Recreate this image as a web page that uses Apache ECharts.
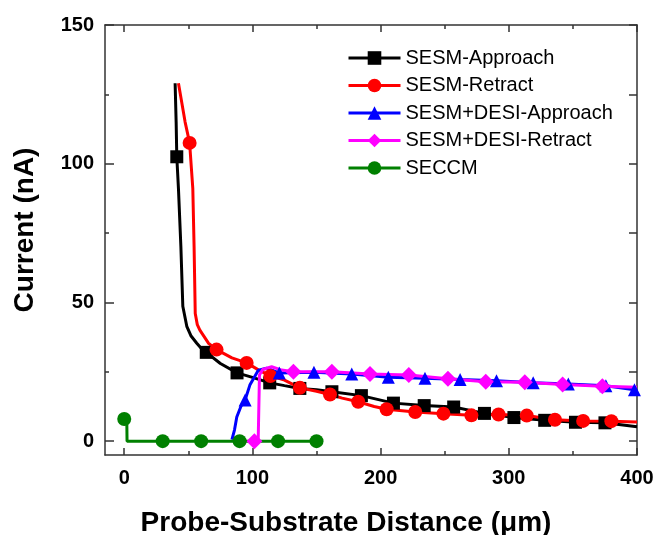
<!DOCTYPE html>
<html>
<head>
<meta charset="utf-8">
<script src="https://cdn.jsdelivr.net/npm/echarts@6/dist/echarts.min.js"></script>
<style>
  html, body { margin: 0; padding: 0; background: #fff; }
  #main { width: 657px; height: 535px; }
</style>
</head>
<body>
<div id="main"></div>
<script>
// series names
let seriesNames = ['SESM-Approach', 'SESM-Retract', 'SESM+DESI-Approach', 'SESM+DESI-Retract', 'SECCM'];

// curve points (no marker) and marker points, [distance um, current nA]
let approachLine = [[39.7, 129], [40.5, 115], [42.3, 91], [44.2, 70], [45.7, 48.6], [48.8, 41.4], [52, 38], [56.6, 35.3], [60, 33.5],
    [75, 28], [100, 23], [125, 20], [150, 18.5], [400, 5.2]];
let approachMarks = [[41, 102.5], [64, 32], [88, 24.6], [113.5, 21], [137, 19], [162, 17.8], [185, 16.4], [210, 13.7], [234, 12.8],
    [257, 12.3], [281, 10], [304, 8.5], [328, 7.5], [352, 6.8], [375, 6.6]];

let retractLine = [[42.3, 129], [47.5, 115], [53.5, 91], [54.5, 70], [55.4, 46], [57, 42], [59, 40], [65.7, 35.3], [84, 30],
    [105, 25.6], [125, 22], [150, 18], [170, 15.5], [195, 12.5], [400, 6.9]];
let retractMarks = [[51, 107.5], [72, 33], [95.5, 28.2], [114, 23.5], [137, 19.2], [160.5, 16.8], [182.5, 14.2], [204.7, 11.5],
    [227, 10.5], [249, 9.9], [270.8, 9.3], [292, 9.6], [314, 9.2], [336, 7.7], [358, 7.3], [380, 7.2]];

let desiApproachLine = [[84, 0.5], [86, 4], [87.8, 8.7], [91, 12.5], [98, 20.2], [104.7, 25.6], [111, 26.3], [400, 18.2]];
let desiApproachMarks = [[94.3, 14.8], [121, 24.6], [148, 24.8], [177.5, 24.2], [206, 23], [234.6, 22.7], [262, 22.2],
    [290.4, 21.8], [319, 21], [346.4, 20.6], [375.7, 20], [398, 18.5]];

let desiRetractLine = [[104.5, 0.5], [105, 12], [105.5, 23.8], [108, 25.8], [115, 26.8], [122.8, 25.6], [400, 19.4]];
let desiRetractMarks = [[101.5, 0], [132, 25], [162, 25], [191.7, 24.2], [222, 23.8], [252.5, 22.5], [282, 21.4],
    [312.5, 21.2], [342, 20.4], [373, 19.8]];

let seccmLine = [[2, 7.5], [2.2, 0]];
let seccmMarks = [[0, 8], [30, 0], [60, 0], [90, 0], [120, 0], [150, 0]];

// axis ticks
let xTicks = [0, 100, 200, 300, 400];
let xMinorTicks = [50, 150, 250, 350];
let yTicks = [0, 50, 100, 150];
let yMinorTicks = [25, 75, 125];
let yAllTicks = [0, 25, 50, 75, 100, 125, 150];

let colors = ['#000000', '#ff0000', '#0000ff', '#ff00ff', '#008000'];
let symbols = ['rect', 'circle', 'triangle', 'diamond', 'circle'];
let sizes = [13, 14, 13, 16, 14];

// merge the plain curve points and the marker points, sorted by x
function buildData(line, marks) {
    let out = [];
    line.forEach(p => out.push({ value: p, symbol: 'none' }));
    marks.forEach(p => out.push({ value: p }));
    out.sort((a, b) => a.value[0] - b.value[0]);
    return out;
}

let curves = [
    [approachLine, approachMarks],
    [retractLine, retractMarks],
    [desiApproachLine, desiApproachMarks],
    [desiRetractLine, desiRetractMarks],
    [seccmLine, seccmMarks]
];

let seriesObj = [];
for (var i = 0; i < curves.length; i++) {
    seriesObj.push({
        name: seriesNames[i],
        type: 'line',
        xAxisIndex: 0,
        yAxisIndex: 0,
        symbol: symbols[i],
        symbolSize: sizes[i],
        showAllSymbol: true,
        animation: false,
        lineStyle: { color: colors[i], width: 3 },
        itemStyle: { color: colors[i] },
        data: buildData(curves[i][0], curves[i][1])
    });
}

let axisColor = '#333';
let labelFont = { color: '#000', fontSize: 20, fontWeight: 'bold', fontFamily: 'Liberation Sans' };

function xAx(pos, showLine, ticks, len, label) {
    return {
        type: 'value', position: pos, min: -15, max: 400,
        splitLine: { show: false },
        axisLine: { show: showLine, onZero: false, lineStyle: { color: axisColor, width: 1.5 } },
        axisTick: { show: true, inside: true, length: len, customValues: ticks, lineStyle: { color: axisColor, width: 1.5 } },
        axisLabel: label ? Object.assign({ show: true, margin: 13, customValues: xTicks }, labelFont) : { show: false }
    };
}
function yAx(pos, showLine, ticks, len, label) {
    return {
        type: 'value', position: pos, min: -5, max: 150,
        splitLine: { show: false },
        axisLine: { show: showLine, onZero: false, lineStyle: { color: axisColor, width: 1.5 } },
        axisTick: { show: true, inside: true, length: len, customValues: ticks, lineStyle: { color: axisColor, width: 1.5 } },
        axisLabel: label ? Object.assign({ show: true, margin: 11, customValues: yTicks, padding: [4, 0, 0, 0] }, labelFont) : { show: false }
    };
}

let xAxes = [
    xAx('bottom', true, xTicks, 7, true),
    xAx('bottom', false, xMinorTicks, 4, false),
    xAx('top', true, xTicks, 7, false),
    xAx('top', false, xMinorTicks, 4, false)
];
Object.assign(xAxes[0], {
    name: 'Probe-Substrate Distance (\u03bcm)',
    nameLocation: 'middle',
    nameGap: 54,
    nameTextStyle: { color: '#000', fontSize: 28, fontWeight: 'bold', fontFamily: 'Liberation Sans', padding: [0, 50, 0, 0] }
});

let yAxes = [
    yAx('left', true, yTicks, 9, true),
    yAx('left', false, yMinorTicks, 4, false),
    yAx('right', true, yAllTicks, 8, false)
];
Object.assign(yAxes[0], {
    name: 'Current (nA)',
    nameLocation: 'middle',
    nameGap: 66,
    nameTextStyle: { color: '#000', fontSize: 28, fontWeight: 'bold', fontFamily: 'Liberation Sans', padding: [0, 0, 0, 20] }
});

let option = {
    backgroundColor: '#fff',
    animation: false,
    grid: { left: 105, right: 20, top: 25, bottom: 80, outerBoundsMode: 'none', containLabel: false },
    legend: {
        orient: 'vertical',
        left: 342,
        top: 42,
        itemWidth: 52,
        itemHeight: 17,
        itemGap: 5.5,
        lineStyle: { width: 3 },
        textStyle: { color: '#000', fontSize: 20, fontFamily: 'Liberation Sans', lineHeight: 22 },
        data: seriesNames
    },
    xAxis: xAxes,
    yAxis: yAxes,
    series: seriesObj
};

let myChart = echarts.init(document.getElementById('main'), null, { renderer: 'canvas' });
myChart.setOption(option);
</script>
</body>
</html>
